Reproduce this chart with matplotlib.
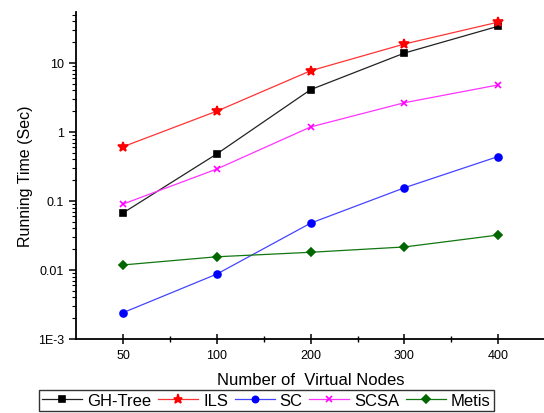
import matplotlib
matplotlib.use("Agg")
import matplotlib.pyplot as plt
from matplotlib.ticker import LogLocator, FixedLocator, NullFormatter

plt.rcParams['font.family'] = ['Liberation Sans', 'DejaVu Sans']

# data
nodes = ['50', '100', '200', '300', '400']
gh_tree = [0.067, 0.48, 4.1, 13.9, 34]
ils = [0.61, 2.0, 7.7, 18.8, 39]
sc = [0.0024, 0.0087, 0.0476, 0.155, 0.44]
scsa = [0.09, 0.29, 1.18, 2.65, 4.8]
metis = [0.0118, 0.0155, 0.018, 0.0215, 0.032]

series = [
    ('GH-Tree', gh_tree, '#222222', '#000000', 's', 5),
    ('ILS', ils, '#ff3333', '#ff0000', '*', 7.5),
    ('SC', sc, '#4444ff', '#0000ff', 'o', 5),
    ('SCSA', scsa, '#ff33ff', '#ff00ff', 'x', 4.5),
    ('Metis', metis, '#117711', '#006600', 'D', 4.5),
]

fig = plt.figure(figsize=(5.44, 4.14), dpi=100)
ax = fig.add_axes([0.14, 0.179, 0.862, 0.79])

x = list(range(len(nodes)))
for name, vals, lc, mc, mk, ms in series:
    ax.plot(x, vals, color=lc, linewidth=0.9, marker=mk, markersize=ms,
            markerfacecolor=mc, markeredgecolor=mc, markeredgewidth=1.2,
            label=name)

ax.set_yscale('log')
ax.set_ylim(1e-3, 55)
ax.set_xlim(-0.5, 4.5)
ax.set_xticks(x)
ax.set_xticklabels(nodes)
ax.xaxis.set_minor_locator(FixedLocator([i + 0.5 for i in range(5)]))
ax.yaxis.set_minor_locator(LogLocator(base=10, subs=range(2, 10), numticks=20))
ax.yaxis.set_minor_formatter(NullFormatter())
ax.set_yticks([1e-3, 1e-2, 1e-1, 1, 10])
ax.set_yticklabels(['1E-3', '0.01', '0.1', '1', '10'])

for s in ['top', 'right']:
    ax.spines[s].set_visible(False)
for s in ['left', 'bottom']:
    ax.spines[s].set_linewidth(1.3)

ax.tick_params(axis='both', which='major', labelsize=9, width=1.1, length=5)
ax.tick_params(axis='x', which='major', direction='inout', length=7)
ax.tick_params(axis='x', which='minor', direction='inout', length=5, width=1.0)
ax.tick_params(axis='y', which='minor', direction='out', length=3, width=0.8)

ax.set_xlabel('Number of  Virtual Nodes', fontsize=12, labelpad=8)
ax.set_ylabel('Running Time (Sec)', fontsize=11.5, labelpad=4)

leg = fig.legend(loc='lower center', bbox_to_anchor=(0.49, 0.004), ncol=5,
                 fontsize=12, frameon=True, fancybox=False, edgecolor='black',
                 handlelength=2.4, handletextpad=0.3, columnspacing=0.4,
                 borderpad=0.2, borderaxespad=0, markerscale=0.9)
leg.get_frame().set_linewidth(1.0)

fig.savefig('out.png', dpi=100)
